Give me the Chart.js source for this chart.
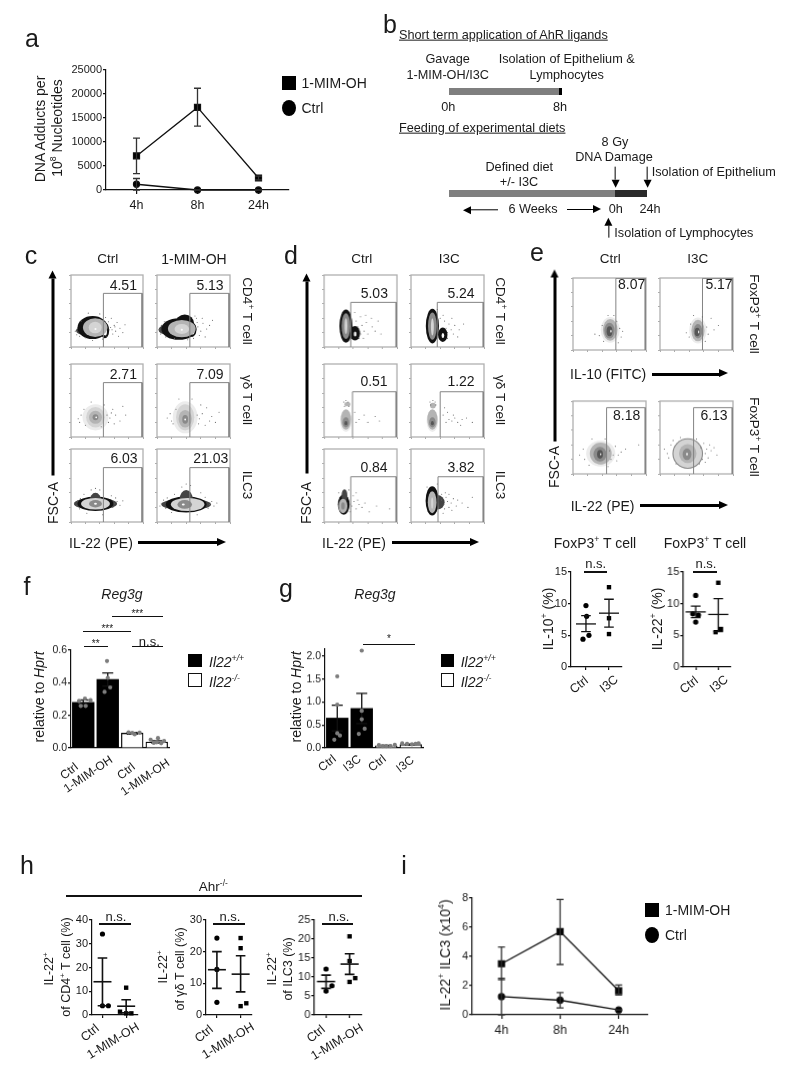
<!DOCTYPE html>
<html>
<head>
<meta charset="utf-8">
<script src="https://cdn.jsdelivr.net/npm/chart.js@4"></script>
<style>
html,body{margin:0;padding:0;background:#fff}
#page{position:relative;width:800px;height:1071px;overflow:hidden;filter:blur(0.35px);font-family:"Liberation Sans",Arial,sans-serif;color:#1a1a1a}
#page canvas{position:absolute}
.t{position:absolute;white-space:nowrap;line-height:1}
.t sup{font-size:62%;line-height:0;vertical-align:super}
.box{position:absolute}
</style>
</head>
<body>
<div id="page"></div>
<script>
// panel a
const hours = ['4h', '8h', '24h'];
const aMim = [7100, 17200, 2500];
const aMimLow = [3400, 13300, 2100];
const aMimHigh = [10800, 21200, 2900];
const aCtrl = [1200, 0, 0];
const aCtrlLow = [0, 0, 0];
const aCtrlHigh = [2400, 0, 0];
// panel i
const iMim = [3.5, 5.7, 1.65];
const iMimLow = [2.4, 3.45, 1.35];
const iMimHigh = [4.65, 7.9, 2.05];
const iCtrl = [1.25, 1.0, 0.33];
const iCtrlLow = [0, 0.47, 0.33];
const iCtrlHigh = [2.5, 1.53, 0.33];
// panel f
const fTicks = [0, 0.2, 0.4, 0.6];
const fMeans = [0.28, 0.42, 0.09, 0.037];
const fErr = [0.015, 0.04, 0.005, 0.007];
const fPoints = [[-0.17,0.287],[0.07,0.303],[0.3,0.293],[-0.1,0.258],[0.1,0.258],
  [0.97,0.533],[1.1,0.371],[0.87,0.344],[1,0.43],
  [1.85,0.096],[2.1,0.084],[2.3,0.094],[2,0.092],
  [2.75,0.051],[3.05,0.061],[3.3,0.043],[2.88,0.031],[3.18,0.029],[3,0.035]];
// panel g
const gTicks = [0, 0.5, 1, 1.5, 2];
const gMeans = [0.65, 0.86, 0.045, 0.075];
const gErr = [0.28, 0.33, 0.01, 0.01];
const gPoints = [[0,1.56],[0,0.945],[0,0.32],[0.11,0.27],[-0.12,0.18],
  [1,2.12],[1,0.81],[1,0.625],[1.12,0.42],[0.88,0.305],
  [1.7,0.065],[1.86,0.04],[2,0.04],[2.17,0.04],[2.35,0.07],
  [2.65,0.1],[2.85,0.09],[3.05,0.08],[3.2,0.09],[3.32,0.1]];
// panel e, dot plots
const eIl10Ctrl = [[1,9.7],[1.03,8.0],[1.13,5.0],[0.87,4.4]];
const eIl10I3c = [[2,12.6],[2,7.7],[2,5.2]];
const eIl10Stats = [[1,6.8,5.6,8.1],[2,8.5,6.3,10.7]];
const eIl22Ctrl = [[1,11.3],[0.87,8.4],[1.12,8.2],[1,7.1]];
const eIl22I3c = [[2,13.3],[2.12,6.0],[1.88,5.5]];
const eIl22Stats = [[1,8.7,7.8,9.6],[2,8.3,5.6,10.8]];
// panel h, dot plots
const hCd4Ctrl = [[1,34.1],[1,3.9],[1.25,3.9]];
const hCd4Mim = [[2,11.5],[1.74,1.4],[2,0.7],[2.22,0.7]];
const hCd4Stats = [[1,14,3.9,24],[2,3.7,0.9,6.4]];
const hGdCtrl = [[1,24.3],[1,14.4],[1,4]];
const hGdMim = [[2,24.3],[2,21.1],[2,2.8],[2.24,3.7]];
const hGdStats = [[1,14.3,8.4,20],[2,12.9,7.3,18.7]];
const hIlcCtrl = [[1,12.1],[1.25,7.7],[1,6.3]];
const hIlcMim = [[2,20.7],[2,14.2],[2.24,9.7],[2,8.7]];
const hIlcStats = [[1,8.8,7,10.5],[2,13.4,10.7,16.1]];

// flow plots: blobs are [cx, cy, rx, ry, density level], events are [x, y], axes 0-100
const cCd4CtrlBlobs = [[17,23,10,6,9],[30,27,21,16,1],[47,23,6,11,1],[47.5,22,2.5,6,6],[33.6,27,17,13,4],[33.6,27,9,8,5],[34,25,1.5,1.5,6]];
const cCd4CtrlEvents = [[55,27],[60,30],[62,22],[68,26],[72,20],[58,18],[52,35],[56,40],[50,15],[64,34],[9,26],[6,22],[8,17],[14,36],[24,47],[40,46],[48,41],[53,24],[57,24],[61,28],[75,31],[66,15],[12,15],[20,13],[30,9],[44,11]];
const cCd4MimBlobs = [[14,24,12,7,9],[30,25,24,15,1],[38,32,13,13,1],[48,24,6,10,1],[49,23,2.5,5.5,6],[34,25.5,19,12,4],[34,25,10,7,5],[34,24,1.5,1.5,6]];
const cCd4MimEvents = [[56,28],[60,22],[63,33],[68,25],[54,40],[58,16],[52,43],[72,30],[3,24],[6,30],[5,18],[10,35],[12,14],[24,12],[42,10],[50,12],[62,40],[76,37],[66,14],[55,34]];
const cGdCtrlBlobs = [[34,27,18,18,7],[34,27,13,14,5],[34,27,9,9,4],[34,27,4,4,3],[35,27,1.2,1.2,6]];
const cGdCtrlEvents = [[10,25],[14,30],[20,16],[12,20],[50,30],[54,26],[58,38],[62,30],[68,22],[72,42],[52,20],[60,18],[46,44],[28,48],[42,14],[76,30],[18,38],[56,33]];
const cGdMimBlobs = [[38.6,27,17,22,7],[38.6,27,12.5,18,5],[38.6,25,9,12,4],[38.6,24,4,6,3],[38.6,24,1.2,1.5,6]];
const cGdMimEvents = [[14,26],[18,32],[22,18],[26,38],[55,30],[58,25],[62,32],[68,40],[75,28],[57,18],[60,44],[72,22],[85,34],[30,52],[48,52],[20,22],[66,16],[80,20]];
const cIlcCtrlBlobs = [[34,25,30,8,9],[34,25,25,10,1],[34,29,8,11,9],[34,25,20,8,5],[34,25,9,5,3],[34,25,2,1.5,6]];
const cIlcCtrlEvents = [[5,25],[8,22],[9,29],[13,32],[12,18],[60,25],[64,28],[58,20],[62,33],[68,23],[34,46],[28,44],[40,44],[22,12],[44,10],[72,29],[56,36],[18,38]];
const cIlcMimBlobs = [[40,24,34,8,9],[40,24,28,11,1],[40,31,9,13,9],[42,24,23,9,5],[38,24,10,6,3],[36,24,2,1.5,6]];
const cIlcMimEvents = [[6,25],[4,22],[9,30],[12,19],[72,24],[75,28],[70,19],[78,22],[66,34],[40,52],[34,48],[46,50],[24,38],[20,13],[55,10],[60,40],[82,26],[14,33]];

const dCd4CtrlBlobs = [[30,29,9,23,1],[42.4,19,7,10,1],[30,29,6,18,3],[30,29,2,11,5],[42.6,18,1.8,3.5,6]];
const dCd4CtrlEvents = [[46,28],[48,24],[52,30],[50,18],[55,22],[58,34],[44,36],[60,18],[66,28],[70,22],[74,36],[50,42],[57,44],[42,48],[78,18],[48,12],[65,40],[54,12]];
const dCd4I3cBlobs = [[29.3,29,9,24,1],[43.5,17,6.5,10,1],[29.3,29,6,19,3],[29.3,28,2,12,5],[43.7,16,1.8,3.5,6]];
const dCd4I3cEvents = [[48,26],[50,20],[52,32],[55,24],[58,18],[46,36],[44,44],[60,30],[66,24],[72,32],[50,12],[64,14],[40,40],[56,40],[36,52]];
const dGdCtrlBlobs = [[30,22,8,15,7],[30,24,7,14,4],[30,20,4.5,7,3],[30,19,2,3,2],[32,45,4,3,4]];
const dGdCtrlEvents = [[27,48],[33,48],[30,50],[28,42],[34,42],[48,24],[55,30],[60,20],[70,28],[76,22],[42,34],[44,20]];
const dGdI3cBlobs = [[29.3,22,8,15,7],[29.3,24,7,14,4],[29.3,20,4.5,7,3],[29.3,19,2,3,2],[30,43,4,4,4]];
const dGdI3cEvents = [[26,48],[33,48],[30,50],[27,44],[34,44],[44,30],[48,20],[52,24],[56,22],[60,26],[64,20],[70,24],[76,26],[50,34],[58,30],[46,40],[68,16],[84,20]];
const dIlcCtrlBlobs = [[27,24,8,14,1],[28,36,4,9,9],[26,22,6,10,4],[26,22,2.5,5,3]];
const dIlcCtrlEvents = [[38,22],[41,28],[44,18],[46,30],[40,36],[48,24],[52,20],[56,26],[62,14],[72,22],[34,44],[20,40],[36,14],[90,18],[44,40]];
const dIlcI3cBlobs = [[36,27,10,10,9],[29,29,9,20,1],[29,27,6,15,4],[29,26,1.5,8,5]];
const dIlcI3cEvents = [[42,30],[45,24],[48,34],[50,28],[52,20],[46,18],[55,26],[58,32],[42,38],[47,40],[62,22],[64,30],[56,16],[70,26],[78,20],[84,34],[22,48],[36,52],[44,12],[52,38]];

const eIl10CtrlBlobs = [[51,28,13,18,7],[51,28,10,15,4],[50,27,7,11,3],[50,26,4,7,2],[52,26,0.8,2,6]];
const eIl10CtrlEvents = [[36,20],[40,34],[30,22],[60,40],[64,30],[66,18],[42,12],[56,48],[48,48],[62,10],[68,26]];
const eIl10I3cBlobs = [[52,27,12,18,7],[52,27,9,15,4],[52,26,6,10,3],[51,25,3.5,6,2],[53,25,0.8,2,6]];
const eIl10I3cEvents = [[36,24],[40,18],[42,36],[64,32],[66,22],[70,44],[80,34],[46,48],[58,46],[62,12],[74,28]];
const eIl22CtrlBlobs = [[38,28,20,18,7],[38,28,15,15,4],[37,27,9,10,3],[37,27,4,6,2],[38,27,0.8,1.5,6]];
const eIl22CtrlEvents = [[9,26],[14,34],[16,20],[50,32],[52,20],[55,26],[58,38],[60,18],[66,30],[72,34],[90,40],[26,48],[44,48],[22,12],[48,10],[62,26]];
const eIl22I3cBlobs = [[38,28,21,21,3],[38,28,19.5,19.5,5],[38,28,12,13,4],[37,27,6,8,3],[37,27,1,2,6]];
const eIl22I3cEvents = [[6,34],[10,28],[12,22],[15,40],[62,28],[64,34],[58,20],[60,42],[66,22],[70,32],[74,36],[78,26],[54,14],[50,48],[28,50],[22,14],[56,36],[62,16],[68,40],[18,46]];

const levelColors = ['#fff', '#111', '#555', '#8a8a8a', '#b4b4b4', '#d4d4d4', '#fafafa', '#ececec', '#777', '#444'];

const page = document.getElementById('page');
const FONT = '"Liberation Sans", Arial, sans-serif';
Chart.defaults.font.family = FONT;
Chart.defaults.color = '#1a1a1a';

function txt(html, x, y, o) {
  o = o || {};
  const d = document.createElement('div');
  d.className = 't';
  d.innerHTML = html;
  d.style.left = x + 'px';
  d.style.top = y + 'px';
  d.style.fontSize = (o.size || 14) + 'px';
  if (o.italic) d.style.fontStyle = 'italic';
  if (o.under) d.style.textDecoration = 'underline';
  const ax = o.left ? '0' : '-50%';
  d.style.transform = 'translate(' + ax + ',-50%)' + (o.rot ? ' rotate(' + o.rot + 'deg)' : '');
  page.appendChild(d);
}
function box(x, y, w, h, css) {
  const d = document.createElement('div');
  d.className = 'box';
  d.style.cssText = 'left:' + x + 'px;top:' + y + 'px;width:' + w + 'px;height:' + h + 'px;' + (css || '');
  page.appendChild(d);
}
function arrow(x1, y1, x2, y2, w, head) {
  const a = Math.atan2(y2 - y1, x2 - x1) * 180 / Math.PI;
  const len = Math.hypot(x2 - x1, y2 - y1);
  const d = document.createElement('div');
  d.className = 'box';
  d.style.cssText = 'left:' + x1 + 'px;top:' + (y1 - w / 2) + 'px;width:' + (len - head) + 'px;height:' + w + 'px;background:#000;transform-origin:0 50%;transform:rotate(' + a + 'deg)';
  const h = document.createElement('div');
  h.style.cssText = 'position:absolute;left:100%;top:' + (w / 2 - head * 0.55) + 'px;width:0;height:0;border-left:' + head + 'px solid #000;border-top:' + (head * 0.55) + 'px solid transparent;border-bottom:' + (head * 0.55) + 'px solid transparent';
  d.appendChild(h);
  page.appendChild(d);
}

// puts a canvas so the plot area lands exactly on the rect given
function place(rect, pad, config) {
  const [x0, y0, x1, y1] = rect;
  const c = document.createElement('canvas');
  const W = x1 - x0 + pad.l + pad.r, H = y1 - y0 + pad.t + pad.b;
  c.width = W; c.height = H;
  c.style.left = (x0 - pad.l) + 'px';
  c.style.top = (y0 - pad.t) + 'px';
  c.style.width = W + 'px';
  c.style.height = H + 'px';
  page.appendChild(c);
  config.options = Object.assign({
    responsive: false, animation: false, devicePixelRatio: 1, events: [],
    layout: { padding: { left: 0, top: pad.t, right: pad.r, bottom: 0 } }
  }, config.options);
  config.options.plugins = Object.assign({ legend: { display: false }, tooltip: { enabled: false } }, config.options.plugins);
  const sc = config.options.scales;
  Object.keys(sc).forEach(k => {
    const isY = k[0] === 'y';
    sc[k].afterFit = s => {
      if (isY) s.width = pad.l; else s.height = pad.b;
      s.paddingLeft = s.paddingRight = s.paddingTop = s.paddingBottom = 0;
    };
  });
  return new Chart(c, config);
}

function axis(extra, tickLen) {
  return Object.assign({
    border: { color: '#111', width: 1.2 },
    grid: { display: true, drawOnChartArea: false, drawTicks: true, tickLength: tickLen, color: '#111', lineWidth: 1.2, offset: false }
  }, extra);
}

const errorPlugin = {
  id: 'errs',
  afterDatasetDraw(chart, args, opts) {
    if (!opts.items || args.index !== opts.after) return;
    const ctx = chart.ctx, xs = chart.scales.x, ys = chart.scales.y;
    ctx.save();
    ctx.strokeStyle = opts.color || '#222';
    opts.items.forEach(e => {
      ctx.lineWidth = opts.width || 1.3;
      const px = xs.getPixelForValue(e[0]);
      const a = ys.getPixelForValue(e[1]), b = ys.getPixelForValue(e[2]);
      ctx.beginPath();
      ctx.moveTo(px, a); ctx.lineTo(px, b);
      [a, b].forEach(v => { ctx.moveTo(px - opts.cap, v); ctx.lineTo(px + opts.cap, v); });
      ctx.stroke();
    });
    ctx.restore();
  }
};

function timeCourse(rect, mim, mimLo, mimHi, ctrl, ctrlLo, ctrlHi, yMax, step) {
  const items = [];
  hours.forEach((h, i) => { items.push([i, mimLo[i], mimHi[i]]); items.push([i, ctrlLo[i], ctrlHi[i]]); });
  place(rect, { l: 45, r: 10, t: 8, b: 30 }, {
    type: 'line',
    data: { labels: hours, datasets: [
      { data: mim, borderColor: '#111', borderWidth: 1.3, pointStyle: 'rect', pointRadius: 4.2, backgroundColor: '#000', clip: false },
      { data: ctrl, borderColor: '#111', borderWidth: 1.3, pointStyle: 'circle', pointRadius: 3, backgroundColor: '#000', clip: false }
    ] },
    options: {
      plugins: { errs: { items, after: 0, cap: 3.5, color: '#333' } },
      scales: {
        x: axis({ type: 'category', offset: true, ticks: { font: { size: 12.5 }, padding: 4, maxRotation: 0, color: '#1a1a1a' } }, 4),
        y: axis({ min: 0, max: yMax, ticks: { stepSize: step, font: { size: 11 }, padding: 1, color: '#1a1a1a', callback: v => String(v) } }, 3)
      }
    },
    plugins: [errorPlugin]
  });
}

function barPanel(rect, means, errs, pts, yMax, yTicks, dec, tickFont) {
  const items = means.map((m, i) => [i, m - errs[i], m + errs[i]]);
  place(rect, { l: 45, r: 10, t: 8, b: 6 }, {
    type: 'bar',
    data: { datasets: [
      { type: 'bar', data: means.map((m, i) => ({ x: i, y: m })), order: 2, grouped: false, barThickness: 21.7,
        backgroundColor: ['#000', '#000', '#fff', '#fff'], borderColor: '#000', borderWidth: [0, 0, 1.2, 1.2], borderSkipped: 'bottom' },
      { type: 'scatter', data: pts.map(p => ({ x: p[0], y: p[1] })), order: 1,
        pointRadius: 2.1, backgroundColor: '#7d7d7d', borderWidth: 0, clip: false }
    ] },
    options: {
      plugins: { errs: { items, after: 0, cap: 5.5, color: '#111' } },
      scales: {
        x: axis({ type: 'linear', offset: false, min: -0.5, max: 3.5, grid: { display: false }, ticks: { display: false } }, 0),
        y: axis({ min: 0, max: yMax, afterBuildTicks: s => { s.ticks = yTicks.map(value => ({ value })); },
          ticks: { font: { size: tickFont }, padding: 1, color: '#1a1a1a', callback: v => v.toFixed(dec) } }, 3)
      }
    },
    plugins: [errorPlugin]
  });
}

function dotPanel(rect, a, b, stats, xMin, xMax, yMax, step, o) {
  const meanHalf = o.meanHalf, lw = o.lw;
  const meanPlugin = {
    id: 'means',
    afterDatasetsDraw(chart) {
      const ctx = chart.ctx, xs = chart.scales.x, ys = chart.scales.y;
      ctx.save();
      ctx.strokeStyle = '#111';
      ctx.lineWidth = lw;
      stats.forEach(s => {
        const px = xs.getPixelForValue(s[0]), m = ys.getPixelForValue(s[1]);
        ctx.beginPath();
        ctx.moveTo(px - meanHalf, m); ctx.lineTo(px + meanHalf, m);
        ctx.stroke();
      });
      ctx.restore();
    }
  };
  place(rect, { l: 35, r: 10, t: 8, b: 8 }, {
    type: 'scatter',
    data: { datasets: [
      { data: a.map(p => ({ x: p[0], y: p[1] })), pointStyle: 'circle', pointRadius: 2.6, backgroundColor: '#000', borderWidth: 0, clip: false },
      { data: b.map(p => ({ x: p[0], y: p[1] })), pointStyle: 'rect', pointRadius: 3.1, backgroundColor: '#000', borderWidth: 0, clip: false }
    ] },
    options: {
      plugins: { errs: { items: stats.map(s => [s[0], s[2], s[3]]), after: 0, cap: 4.8, color: '#111', width: lw } },
      scales: {
        x: axis({ type: 'linear', min: xMin, max: xMax, afterBuildTicks: s => { s.ticks = [{ value: 1 }, { value: 2 }]; }, ticks: { display: false } }, 3),
        y: axis({ min: 0, max: yMax, ticks: { stepSize: step, font: { size: 11 }, padding: 1, color: '#1a1a1a' } }, 3)
      }
    },
    plugins: [errorPlugin, meanPlugin]
  });
}

function flowPlot(rect, blobs, events, gate) {
  const blobPlugin = {
    id: 'blobs',
    beforeDatasetsDraw(chart) {
      const ctx = chart.ctx, xs = chart.scales.x, ys = chart.scales.y, ar = chart.chartArea;
      ctx.save();
      blobs.forEach(b => {
        const px = xs.getPixelForValue(b[0]), py = ys.getPixelForValue(b[1]);
        const rx = Math.abs(xs.getPixelForValue(b[0] + b[2]) - px), ry = Math.abs(ys.getPixelForValue(b[1] + b[3]) - py);
        ctx.fillStyle = levelColors[b[4]];
        ctx.beginPath();
        ctx.ellipse(px, py, rx, ry, 0, 0, Math.PI * 2);
        ctx.fill();
      });
      ctx.strokeStyle = '#b0b0b0';
      ctx.lineWidth = 1.3;
      ctx.strokeRect(ar.left, ar.top, ar.right - ar.left, ar.bottom - ar.top);
      ctx.restore();
    }
  };
  const tick = { display: true, drawOnChartArea: false, drawTicks: true, tickLength: 2, color: '#888', lineWidth: 0.7 };
  place(rect, { l: 6, r: 2, t: 2, b: 6 }, {
    type: 'scatter',
    data: { datasets: [
      { data: events.map(p => ({ x: p[0], y: p[1] })), pointRadius: 0.55, backgroundColor: '#666', borderWidth: 0 },
      { data: gate.map(p => ({ x: p[0], y: p[1] })), showLine: true, pointRadius: 0, borderColor: '#848484', borderWidth: 1 }
    ] },
    options: {
      scales: {
        x: { type: 'linear', min: 0, max: 100, border: { display: false }, grid: tick, ticks: { stepSize: 20, display: false } },
        y: { type: 'linear', min: 0, max: 100, border: { display: false }, grid: tick, ticks: { stepSize: 20, display: false } }
      }
    },
    plugins: [blobPlugin]
  });
}
function rectGate(x0, x1, top) { return [[x0, 0], [x0, top], [x1, top], [x1, 0]]; }

// ---- panel a
txt('a', 32, 38, { size: 25 });
timeCourse([106, 70, 289, 190.3], aMim, aMimLow, aMimHigh, aCtrl, aCtrlLow, aCtrlHigh, 25000, 5000);
txt('DNA Adducts per', 40, 129, { rot: -90 });
txt('10<sup>8</sup> Nucleotides', 57, 128, { rot: -90 });
box(281.7, 76, 14.3, 14, 'background:#000');
box(281.7, 100.3, 14, 16, 'background:#000;border-radius:50%');
txt('1-MIM-OH', 301.5, 82.7, { left: 1 });
txt('Ctrl', 301.5, 108.3, { left: 1 });

// ---- panel b
const bFont = 12.7;
txt('b', 390, 24, { size: 25 });
txt('Short term application of AhR ligands', 399, 35, { left: 1, size: bFont, under: 1 });
txt('Gavage', 447.7, 59, { size: bFont });
txt('1-MIM-OH/I3C', 447.7, 75, { size: bFont });
txt('Isolation of Epithelium &amp;', 566.7, 59, { size: bFont });
txt('Lymphocytes', 566.7, 75, { size: bFont });
box(449.3, 88.3, 110, 6.7, 'background:#7f7f7f');
box(559.3, 88.3, 2.4, 6.7, 'background:#000');
txt('0h', 448.3, 106.7, { size: bFont });
txt('8h', 560, 106.7, { size: bFont });
txt('Feeding of experimental diets', 399, 127.7, { left: 1, size: bFont, under: 1 });
txt('8 Gy', 615, 142, { size: bFont });
txt('DNA Damage', 614, 157, { size: bFont });
txt('Defined diet', 519.3, 166.7, { size: bFont });
txt('+/- I3C', 519, 182, { size: bFont });
arrow(615, 166.7, 615, 188, 1.3, 8);
arrow(646.7, 166.7, 646.7, 188, 1.3, 8);
txt('Isolation of Epithelium', 651.7, 172, { left: 1, size: bFont });
box(449.3, 190, 165.7, 6.7, 'background:#7f7f7f');
box(615, 190, 31.7, 6.7, 'background:#2a2a2a');
arrow(498, 209.3, 463, 209.3, 1.3, 8);
txt('6 Weeks', 533, 209.3, { size: bFont });
arrow(566.7, 209.3, 601, 209.3, 1.3, 8);
txt('0h', 615.7, 209.3, { size: bFont });
txt('24h', 650, 209.3, { size: bFont });
arrow(609.3, 238, 609.3, 218, 1.3, 8);
txt('Isolation of Lymphocytes', 614.3, 233, { left: 1, size: bFont });

// ---- panel c
txt('c', 31, 255, { size: 25 });
txt('Ctrl', 107.7, 259.3, { size: 13.5 });
txt('1-MIM-OH', 194, 259.3);
const cGate = rectGate(45, 98.7, 74.5);
flowPlot([70.7, 272.7, 145, 347.3], cCd4CtrlBlobs, cCd4CtrlEvents, cGate);
flowPlot([156.7, 272.7, 231.7, 347.3], cCd4MimBlobs, cCd4MimEvents, cGate);
flowPlot([70.7, 362, 145, 437], cGdCtrlBlobs, cGdCtrlEvents, cGate);
flowPlot([156.7, 362, 231.7, 437], cGdMimBlobs, cGdMimEvents, cGate);
flowPlot([70.7, 447, 145, 522], cIlcCtrlBlobs, cIlcCtrlEvents, cGate);
flowPlot([156.7, 447, 231.7, 522], cIlcMimBlobs, cIlcMimEvents, cGate);
txt('4.51', 123.3, 285);
txt('5.13', 210, 285);
txt('2.71', 123.3, 374);
txt('7.09', 210, 374);
txt('6.03', 124, 458.3);
txt('21.03', 210.7, 458.3);
txt('CD4<sup>+</sup> T cell', 246.7, 311, { rot: 90, size: 13.5 });
txt('γδ T cell', 246.7, 400, { rot: 90, size: 13.5 });
txt('ILC3', 246.7, 485, { rot: 90, size: 13.5 });
txt('FSC-A', 52.7, 503, { rot: -90 });
arrow(53, 475, 53, 270, 3, 8);
txt('IL-22 (PE)', 69, 542.7, { left: 1 });
arrow(138.3, 542.7, 226, 542.7, 2.5, 9);

// ---- panel d
txt('d', 291, 255, { size: 25 });
txt('Ctrl', 361.7, 259.3, { size: 13.5 });
txt('I3C', 449.3, 259.3, { size: 13.5 });
flowPlot([324.3, 272.7, 399, 346.7], dCd4CtrlBlobs, dCd4CtrlEvents, rectGate(36.6, 99, 62));
flowPlot([410.7, 272.7, 485.7, 346.7], dCd4I3cBlobs, dCd4I3cEvents, rectGate(36, 99, 62));
flowPlot([324.3, 362.3, 399, 437.3], dGdCtrlBlobs, dGdCtrlEvents, rectGate(39, 99, 62));
flowPlot([410.7, 362.3, 485.7, 437.3], dGdI3cBlobs, dGdI3cEvents, rectGate(40, 99, 62));
flowPlot([324.3, 446.7, 399, 521.7], dIlcCtrlBlobs, dIlcCtrlEvents, rectGate(36.6, 99, 62));
flowPlot([410.7, 446.7, 485.7, 521.7], dIlcI3cBlobs, dIlcI3cEvents, rectGate(37, 99, 62));
txt('5.03', 374.3, 293.3);
txt('5.24', 461, 293.3);
txt('0.51', 374, 380.7);
txt('1.22', 461, 380.7);
txt('0.84', 374, 467.3);
txt('3.82', 461, 467.3);
txt('CD4<sup>+</sup> T cell', 500, 311, { rot: 90, size: 13.5 });
txt('γδ T cell', 500, 400, { rot: 90, size: 13.5 });
txt('ILC3', 500, 485, { rot: 90, size: 13.5 });
txt('FSC-A', 306, 503, { rot: -90 });
arrow(306.7, 473, 306.7, 273, 3, 8);
txt('IL-22 (PE)', 322, 542.7, { left: 1 });
arrow(392, 542.7, 479, 542.7, 2.5, 9);

// ---- panel e, flow
txt('e', 537, 252, { size: 25 });
txt('Ctrl', 610.3, 259.3, { size: 13.5 });
txt('I3C', 697.7, 259.3, { size: 13.5 });
flowPlot([572.7, 275.7, 647.7, 350], eIl10CtrlBlobs, eIl10CtrlEvents, rectGate(58.7, 99, 99.5));
flowPlot([660, 275.7, 735, 350], eIl10I3cBlobs, eIl10I3cEvents, rectGate(58.2, 99, 99.5));
flowPlot([572.7, 399.3, 647.7, 474], eIl22CtrlBlobs, eIl22CtrlEvents, rectGate(46, 99, 91));
flowPlot([660, 399.3, 735, 474], eIl22I3cBlobs, eIl22I3cEvents, rectGate(46, 99, 91));
txt('8.07', 631.7, 284);
txt('5.17', 719, 284);
txt('8.18', 626.7, 415);
txt('6.13', 714, 415);
txt('FoxP3<sup>+</sup> T cell', 754, 314, { rot: 90, size: 13.5 });
txt('FoxP3<sup>+</sup> T cell', 754, 436.7, { rot: 90, size: 13.5 });
txt('IL-10 (FITC)', 570, 374.3, { left: 1 });
arrow(652.3, 374.3, 728.3, 374.3, 2.5, 9);
txt('IL-22 (PE)', 570.7, 505.7, { left: 1 });
arrow(640, 505.7, 728.3, 505.7, 2.5, 9);
txt('FSC-A', 554.3, 467, { rot: -90 });
arrow(555, 441.7, 555, 270, 3, 8);

// ---- panel e, dot plots
const eDot = { meanHalf: 10, lw: 1.3 };
dotPanel([570.7, 571.7, 621.7, 667.3], eIl10Ctrl, eIl10I3c, eIl10Stats, 0.35, 2.565, 15, 5, eDot);
dotPanel([683.3, 571.7, 731, 667.3], eIl22Ctrl, eIl22I3c, eIl22Stats, 0.454, 2.56, 15, 5, eDot);
txt('FoxP3<sup>+</sup> T cell', 595, 542.7);
txt('FoxP3<sup>+</sup> T cell', 705, 542.7);
txt('IL-10<sup>+</sup> (%)', 548.3, 619.3, { rot: -90 });
txt('IL-22<sup>+</sup> (%)', 656.7, 619.3, { rot: -90 });
box(584, 571.3, 23.3, 1.4, 'background:#111');
box(693.3, 571.3, 24, 1.4, 'background:#111');
txt('n.s.', 595.7, 562.7, { size: 13 });
txt('n.s.', 706, 562.7, { size: 13 });
txt('Ctrl', 578.5, 685, { size: 12.5, rot: -38 });
txt('I3C', 608.5, 683.5, { size: 12.5, rot: -38 });
txt('Ctrl', 688.5, 685, { size: 12.5, rot: -38 });
txt('I3C', 718.5, 683.5, { size: 12.5, rot: -38 });

// ---- panel f
txt('f', 27, 586, { size: 25 });
txt('Reg3g', 122, 594, { italic: 1 });
barPanel([71.3, 650, 169.3, 747.7], fMeans, fErr, fPoints, 0.6, fTicks, 1, 10.5);
txt('relative to <i>Hprt</i>', 39.3, 697.3, { rot: -90 });
box(84, 646, 23.7, 1.3, 'background:#111');
box(83.3, 631, 47.7, 1.3, 'background:#111');
box(111.7, 615.5, 51.6, 1.3, 'background:#111');
box(131.7, 646, 31.6, 1.3, 'background:#111');
txt('**', 95.7, 644, { size: 10 });
txt('***', 107.3, 629, { size: 10 });
txt('***', 137.3, 614, { size: 10 });
txt('n.s.', 149.3, 640.5, { size: 13 });
box(188.3, 654, 13.4, 13.3, 'background:#000');
box(188.3, 673.3, 11.4, 11.4, 'border:1px solid #111;background:#fff');
txt('Il22<sup>+/+</sup>', 209, 661.7, { left: 1, italic: 1 });
txt('Il22<sup>-/-</sup>', 209, 681.7, { left: 1, italic: 1 });
txt('Ctrl', 69.3, 771, { size: 12, rot: -38 });
txt('1-MIM-OH', 87.7, 774.3, { size: 12, rot: -34 });
txt('Ctrl', 126, 771, { size: 12, rot: -38 });
txt('1-MIM-OH', 145, 776.7, { size: 12, rot: -34 });

// ---- panel g
txt('g', 286, 588, { size: 25 });
txt('Reg3g', 375, 594, { italic: 1 });
barPanel([325, 649, 423.3, 747.7], gMeans, gErr, gPoints, 2.153, gTicks, 1, 10.5);
txt('relative to <i>Hprt</i>', 296, 697.3, { rot: -90 });
box(363.3, 643.5, 51.7, 1.3, 'background:#111');
txt('*', 389, 639, { size: 10 });
box(440.7, 654, 13.6, 13.3, 'background:#000');
box(440.7, 673.3, 11.6, 11.4, 'border:1px solid #111;background:#fff');
txt('Il22<sup>+/+</sup>', 460.7, 661.7, { left: 1, italic: 1 });
txt('Il22<sup>-/-</sup>', 460.7, 681.7, { left: 1, italic: 1 });
txt('Ctrl', 326.7, 763.3, { size: 12, rot: -38 });
txt('I3C', 352.3, 763.3, { size: 12, rot: -38 });
txt('Ctrl', 376.7, 763.3, { size: 12, rot: -38 });
txt('I3C', 405, 764, { size: 12, rot: -38 });

// ---- panel h
txt('h', 27, 865, { size: 25 });
txt('Ahr<sup>-/-</sup>', 213.3, 886.7, { size: 13.5 });
box(65.7, 894.7, 296.6, 2, 'background:#111');
const hDot = { meanHalf: 9, lw: 1.6 };
dotPanel([91.7, 919.7, 138.3, 1015], hCd4Ctrl, hCd4Mim, hCd4Stats, 0.558, 2.5, 40, 10, hDot);
dotPanel([205.7, 919.7, 252.3, 1015], hGdCtrl, hGdMim, hGdStats, 0.54, 2.48, 30, 10, hDot);
dotPanel([314, 919.7, 361.7, 1015], hIlcCtrl, hIlcMim, hIlcStats, 0.504, 2.525, 25, 5, hDot);
box(99.3, 922.7, 31.4, 2, 'background:#111');
box(213.3, 922.7, 31.7, 2, 'background:#111');
box(322, 922.7, 31.3, 2, 'background:#111');
txt('n.s.', 116, 916, { size: 13 });
txt('n.s.', 230, 916, { size: 13 });
txt('n.s.', 339, 916, { size: 13 });
txt('IL-22<sup>+</sup>', 49, 969, { rot: -90, size: 12.5 });
txt('of CD4<sup>+</sup> T cell (%)', 66, 966.7, { rot: -90, size: 12.5 });
txt('IL-22<sup>+</sup>', 162.7, 967, { rot: -90, size: 12.5 });
txt('of γδ T cell (%)', 180, 969, { rot: -90, size: 12.5 });
txt('IL-22<sup>+</sup>', 272.3, 969, { rot: -90, size: 12.5 });
txt('of ILC3 (%)', 288.3, 969, { rot: -90, size: 12.5 });
txt('Ctrl', 90, 1032.7, { size: 12.5, rot: -40 });
txt('1-MIM-OH', 112.7, 1041.3, { size: 12.5, rot: -31 });
txt('Ctrl', 204.2, 1034, { size: 12.5, rot: -40 });
txt('1-MIM-OH', 228.3, 1041.3, { size: 12.5, rot: -31 });
txt('Ctrl', 315.7, 1034, { size: 12.5, rot: -40 });
txt('1-MIM-OH', 337, 1041.7, { size: 12.5, rot: -31 });

// ---- panel i
txt('i', 404, 865, { size: 25 });
timeCourse([472.3, 898.3, 648.3, 1015], iMim, iMimLow, iMimHigh, iCtrl, iCtrlLow, iCtrlHigh, 8, 2);
txt('IL-22<sup>+</sup> ILC3 (x10<sup>4</sup>)', 445, 955, { rot: -90 });
box(645.3, 902.7, 13.7, 14, 'background:#000');
box(645.3, 926.7, 14, 16, 'background:#000;border-radius:50%');
txt('1-MIM-OH', 665, 910, { left: 1 });
txt('Ctrl', 665, 935, { left: 1 });
</script>
</body>
</html>
